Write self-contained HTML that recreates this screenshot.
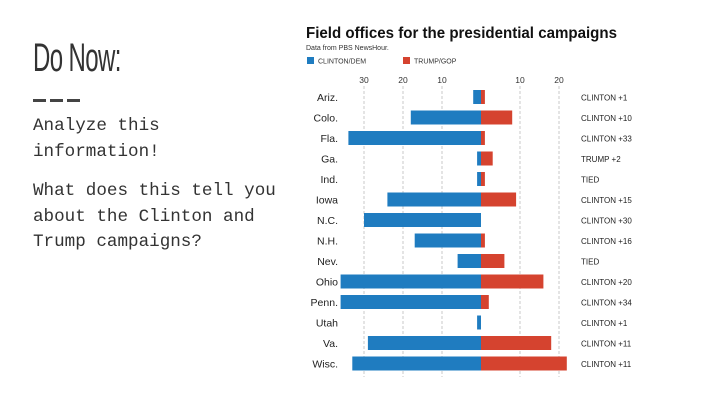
<!DOCTYPE html>
<html><head><meta charset="utf-8"><style>
body{margin:0;width:720px;height:405px;background:#fff;overflow:hidden;position:relative;font-family:"Liberation Sans",sans-serif}
.mono{font-family:"Liberation Mono",monospace;font-size:17.6px;color:#333;position:absolute;left:33px;line-height:25.5px;white-space:pre}
</style></head><body>
<div style="position:absolute;left:33px;top:36px;font-size:40px;color:#333;transform:scaleX(0.6);transform-origin:left top;letter-spacing:-1px">Do Now:</div>
<div style="position:absolute;left:33px;top:99px;width:47px;height:3px;background:repeating-linear-gradient(90deg,#444 0 13px,transparent 13px 17px)"></div>
<div class="mono" style="top:114px">Analyze this
information!</div>
<div class="mono" style="top:179px">What does this tell you
about the Clinton and
Trump campaigns?</div>
<svg id="chart" width="720" height="405" style="position:absolute;left:0;top:0"></svg>
<script>
const states=["Ariz.","Colo.","Fla.","Ga.","Ind.","Iowa","N.C.","N.H.","Nev.","Ohio","Penn.","Utah","Va.","Wisc."];
const clinton=[2,18,34,1,1,24,30,17,6,36,36,1,29,33];
const trump=[1,8,1,3,1,9,0,1,6,16,2,0,18,22];
const results=["CLINTON +1","CLINTON +10","CLINTON +33","TRUMP +2","TIED","CLINTON +15","CLINTON +30","CLINTON +16","TIED","CLINTON +20","CLINTON +34","CLINTON +1","CLINTON +11","CLINTON +11"];
const ticks=[-30,-20,-10,10,20];
const NS="http://www.w3.org/2000/svg";
const svg=document.getElementById('chart');
const cx=481,k=3.9,y0=97,pitch=20.5,bh=14;
const X=v=>cx+v*k, Y=i=>y0+i*pitch;
function mk(t,a,txt){const e=document.createElementNS(NS,t);for(const n in a)e.setAttribute(n,a[n]);if(txt!=null)e.textContent=txt;svg.appendChild(e);return e;}
let e=mk('text',{x:306,y:38,'font-size':'15.5px','font-weight':'bold',fill:'#111',textLength:311,lengthAdjust:'spacingAndGlyphs'},'Field offices for the presidential campaigns');


e=mk('text',{x:306,y:50,'font-size':'7px',fill:'#333'},'Data from PBS NewsHour.');


e=mk('rect',{x:307,y:57,width:7,height:7,fill:'#1f7cc0'});


e=mk('text',{x:318,y:63.5,'font-size':'7px',fill:'#333'},'CLINTON/DEM');


e=mk('rect',{x:403,y:57,width:7,height:7,fill:'#d5432f'});


e=mk('text',{x:414,y:63.5,'font-size':'7px',fill:'#333'},'TRUMP/GOP');


ticks.forEach(t=>{
 let g=mk('line',{x1:X(t),x2:X(t),y1:86,y2:377,stroke:'#bbb','stroke-width':0.8,'stroke-dasharray':'3,2'});
 
 
 let l=mk('text',{x:X(t),y:83,'font-size':'8.5px','text-anchor':'middle',fill:'#333'},String(Math.abs(t)));
 
 
});
states.forEach((s,i)=>{
 const y=Y(i);
 let l=mk('text',{x:338,y:y+4,'font-size':'10.5px','text-anchor':'end',fill:'#222'},s);
 
 
 let b=mk('rect',{x:X(-clinton[i]),y:y-bh/2,width:clinton[i]*k,height:bh,fill:'#1f7cc0'});
 
 
 let r=mk('rect',{x:cx,y:y-bh/2,width:trump[i]*k,height:bh,fill:'#d5432f'});
 
 
 let t=mk('text',{x:581,y:y+3.5,'font-size':'8px',fill:'#222'},results[i]);
 
 
});
</script>
</body></html>
